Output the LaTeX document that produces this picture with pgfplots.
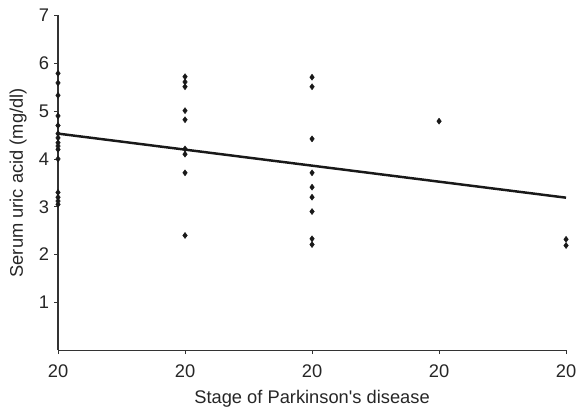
\documentclass[border=0pt]{standalone}
\usepackage{fontspec}
\setmainfont{Liberation Sans}
\usepackage{pgfplots}
\pgfplotsset{compat=1.18}
\begin{document}
\begin{tikzpicture}
\begin{axis}[
  scale only axis,
  width=472pt, height=311pt,
  xmin=1, xmax=5, ymin=0, ymax=7,
  axis x line=bottom, axis y line=left,
  axis line style={-, line width=1pt, color=black!80},
  xtick={1,2,3,4,5},
  xticklabels={20,20,20,20,20},
  ytick={1,2,3,4,5,6,7},
  tick align=outside,
  major tick length=3.7pt,
  tick style={line width=0.8pt, color=black!80},
  /pgf/number format/assume math mode=true,
  tick label style={font=\fontsize{17}{19}\selectfont, text=black!85},
  xticklabel style={yshift=-6pt},
  yticklabel style={xshift=-1pt},
  label style={font=\fontsize{17}{19}\selectfont, text=black!85},
  xlabel={Stage of Parkinson\textquotesingle s disease},
  ylabel={Serum uric acid (mg/dl)},
  xlabel style={at={(axis description cs:0.5,0)}, anchor=base, yshift=-49.5pt},
  ylabel style={at={(axis description cs:0,0.5)}, anchor=center, yshift=37pt},
  clip=false,
]
\addplot[only marks, mark=diamond*, mark size=2.8pt, black!90] coordinates {
  (1,5.79) (1,5.59) (1,5.33) (1,4.90) (1,4.70) (1,4.53) (1,4.44) (1,4.34) (1,4.27) (1,4.20) (1,4.00)
  (1,3.30) (1,3.20) (1,3.12) (1,3.05)
  (2,5.72) (2,5.61) (2,5.51) (2,5.01) (2,4.82) (2,4.21) (2,4.10) (2,3.71) (2,2.40)
  (3,5.71) (3,5.51) (3,4.42) (3,3.71) (3,3.41) (3,3.20) (3,2.90) (3,2.33) (3,2.21)
  (4,4.79)
  (5,2.32) (5,2.19)
};
\addplot[line width=2.3pt, black!90] coordinates {(1,4.53) (5,3.19)};
\coordinate (ll) at (axis description cs:0,0);
\coordinate (ur) at (axis description cs:1,1);
\end{axis}
\pgfresetboundingbox
\path ([shift={(-53.9pt,-55.2pt)}]ll) rectangle ([shift={(11.1pt,14.4pt)}]ur);
\end{tikzpicture}
\end{document}
